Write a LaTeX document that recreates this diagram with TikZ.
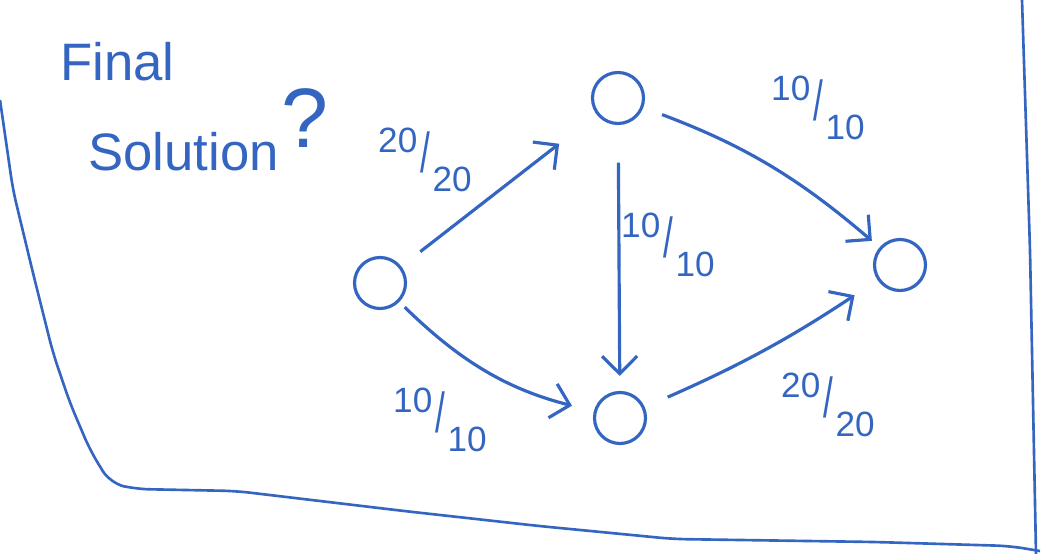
\documentclass[tikz,border=0pt]{standalone}
\usepackage{fontspec}
\setmainfont{Liberation Sans}
\usepackage{graphicx}
\usetikzlibrary{arrows.meta,positioning}
\definecolor{ink}{RGB}{52,101,192}
\tikzset{
  vtx/.style={draw=ink,circle,line width=1.8pt,minimum size=1.02cm,inner sep=0pt},
  arr/.style={-{Straight Barb[length=3.5mm,width=7mm]},ink,line width=1.8pt},
  flow/.style={text=ink,font=\fontsize{20}{22}\selectfont,inner sep=1pt},
  ttl/.style={text=ink,font=\fontsize{30}{32}\selectfont,anchor=west,inner sep=0pt},
  frame/.style={ink,line width=1.5pt,rounded corners=8pt},
}
\newcommand{\flowfrac}[2]{\raisebox{.55em}{#1}\kern.08em\scalebox{1}[1.6]{/}\kern.08em\raisebox{-.55em}{#2}}

\begin{document}
\begin{tikzpicture}[x=0.02cm,y=-0.02cm]
\useasboundingbox (0,0) rectangle (1051,554);
% frame
\draw[frame] (0,100) -- (13,190) -- (33,273) -- (53,353) -- (70,403) -- (90,450) -- (110,483) -- (135,489) -- (236,491) -- (404,511) -- (539,526) -- (673,539) -- (875,542) -- (1010,546) -- (1040,551);
\draw[frame] (1022,0) -- (1030,250) -- (1036,554);
% title
\node[ttl] (ttl1) at (60,62) {Final};
\node[ttl] (ttl2) at (88,152) {Solution};
\node[text=ink,font=\fontsize{48}{50}\selectfont] (qm) at (305,118) {?};
% vertices
\node[vtx] (s) at (380,283) {};
\node[vtx] (a) at (618,98) {};
\node[vtx] (t) at (900,265) {};
\node[vtx] (b) at (620,418) {};
% edges
\draw[arr,shorten <=0.48cm,shorten >=0.95cm] (s) -- (a);
\draw[arr,shorten <=0.4cm,shorten >=0.2cm] (a) to[bend left=10] (t);
\draw[arr,shorten <=0.75cm,shorten >=0.3cm] (a) -- (b);
\draw[arr,shorten <=0.15cm,shorten >=0.45cm] (s) to[bend right=15] (b);
\draw[arr,shorten <=0.5cm,shorten >=0.55cm] (b) to[bend right=5] (t);
% flows
\foreach \nm/\x/\y/\f/\c in {fsa/425/160/20/20,fat/818/108/10/10,fab/668/245/10/10,fsb/440/420/10/10,fbt/828/405/20/20}
  \node[flow] (\nm) at (\x,\y) {\flowfrac{\f}{\c}};
\end{tikzpicture}
\end{document}
